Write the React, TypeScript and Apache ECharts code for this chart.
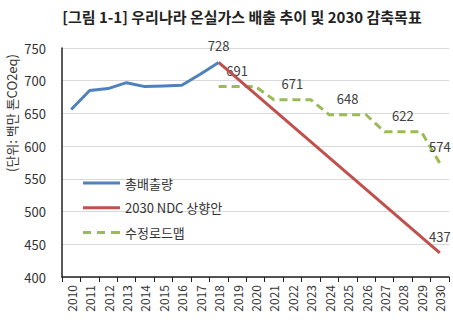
import React, { useEffect, useRef } from "react";
import * as echarts from "echarts";

const years = ["2010","2011","2012","2013","2014","2015","2016","2017","2018","2019","2020","2021","2022","2023","2024","2025","2026","2027","2028","2029","2030"];
const totalEmission: (number | null)[] = [656, 685, 688, 697, 691, 692, 693, 710, 728, null, null, null, null, null, null, null, null, null, null, null, null];
const ndcPlan: (number | null)[] = [null, null, null, null, null, null, null, null, 728, null, null, null, null, null, null, null, null, null, null, null, 437];
const roadmap: (number | null)[] = [null, null, null, null, null, null, null, null, 691, 691, 691, 671, 671, 671, 648, 648, 648, 622, 622, 622, 574];
const totalLabelIdx = [8];
const ndcLabelIdx = [20];
const roadmapLabelIdx = [9, 12, 15, 18, 20];
const yTicks = { min: 400, max: 750, interval: 50 };

const FONT = "'Noto Sans CJK KR', 'Noto Sans', sans-serif";

function withLabels(arr: (number | null)[], idx: number[]) {
  return arr.map((v, i) => {
    if (v === null) return null;
    if (idx.includes(i)) {
      return {
        value: v,
        label: {
          show: true,
          position: "top",
          distance: 10,
          fontSize: 13,
          color: "#404040",
          fontFamily: FONT,
        },
      };
    }
    return v;
  });
}

const solidIcon = "path://M0,0h37v3h-37z";
const dashIcon = "path://M0,0h8v3h-8z M14,0h8v3h-8z M28,0h9v3h-9z";

export default function App() {
  const ref = useRef<HTMLDivElement>(null);
  useEffect(() => {
    if (!ref.current) return;
    const chart = echarts.init(ref.current, null, { renderer: "svg" });
    chart.setOption({
      animation: false,
      backgroundColor: "#ffffff",
      textStyle: { fontFamily: FONT },
      title: {
        text: "[그림 1-1] 우리나라 온실가스 배출 추이 및 2030 감축목표",
        left: 237,
        textAlign: "center",
        top: 4,
        textStyle: { fontSize: 15, fontWeight: "bold", color: "#222", fontFamily: FONT },
      },
      graphic: [
        {
          type: "text",
          x: 11,
          y: 113,
          rotation: Math.PI / 2,
          style: {
            text: "(단위: 백만 톤CO2eq)",
            fontSize: 13,
            fill: "#333",
            fontFamily: FONT,
            align: "center",
            verticalAlign: "middle",
          },
        },
      ],
      legend: {
        orient: "vertical",
        left: 78,
        top: 171,
        itemWidth: 37,
        itemHeight: 3,
        itemGap: 10.7,
        textStyle: { fontSize: 13, lineHeight: 14, color: "#333", fontFamily: FONT },
        data: [
          { name: "총배출량", icon: solidIcon },
          { name: "2030 NDC 상향안", icon: solidIcon },
          { name: "수정로드맵", icon: dashIcon },
        ],
      },
      grid: { left: 62, right: 4, top: 48, bottom: 46 },
      xAxis: {
        type: "category",
        data: years,
        boundaryGap: true,
        axisLine: { lineStyle: { color: "#222", width: 1.5 } },
        axisTick: { show: true, length: 5, lineStyle: { color: "#222" } },
        axisLabel: { rotate: 90, fontSize: 12, color: "#333", margin: 8, interval: 0, fontFamily: FONT },
      },
      yAxis: {
        type: "value",
        min: yTicks.min,
        max: yTicks.max,
        interval: yTicks.interval,
        axisLine: { show: true, lineStyle: { color: "#222", width: 1.5 } },
        axisTick: { show: false },
        axisLabel: { fontSize: 13, color: "#333", margin: 16, fontFamily: FONT },
        splitLine: { lineStyle: { color: "#d9d9d9" } },
      },
      series: [
        {
          name: "총배출량",
          type: "line",
          data: withLabels(totalEmission, totalLabelIdx),
          symbol: "circle",
          symbolSize: 0,
          showAllSymbol: true,
          lineStyle: { color: "#4f81bd", width: 3 },
          itemStyle: { color: "#4f81bd" },
          z: 3,
        },
        {
          name: "2030 NDC 상향안",
          type: "line",
          data: withLabels(ndcPlan, ndcLabelIdx),
          connectNulls: true,
          symbol: "circle",
          symbolSize: 0,
          showAllSymbol: true,
          lineStyle: { color: "#c0504d", width: 3 },
          itemStyle: { color: "#c0504d" },
          z: 2,
        },
        {
          name: "수정로드맵",
          type: "line",
          data: withLabels(roadmap, roadmapLabelIdx),
          symbol: "circle",
          symbolSize: 0,
          showAllSymbol: true,
          lineStyle: { color: "#9bbb59", width: 3, type: [8, 5] },
          itemStyle: { color: "#9bbb59" },
          z: 1,
        },
      ],
    });
    return () => chart.dispose();
  }, []);
  return <div ref={ref} style={{ width: 453, height: 323, position: "absolute", left: 0, top: 0 }} />;
}
